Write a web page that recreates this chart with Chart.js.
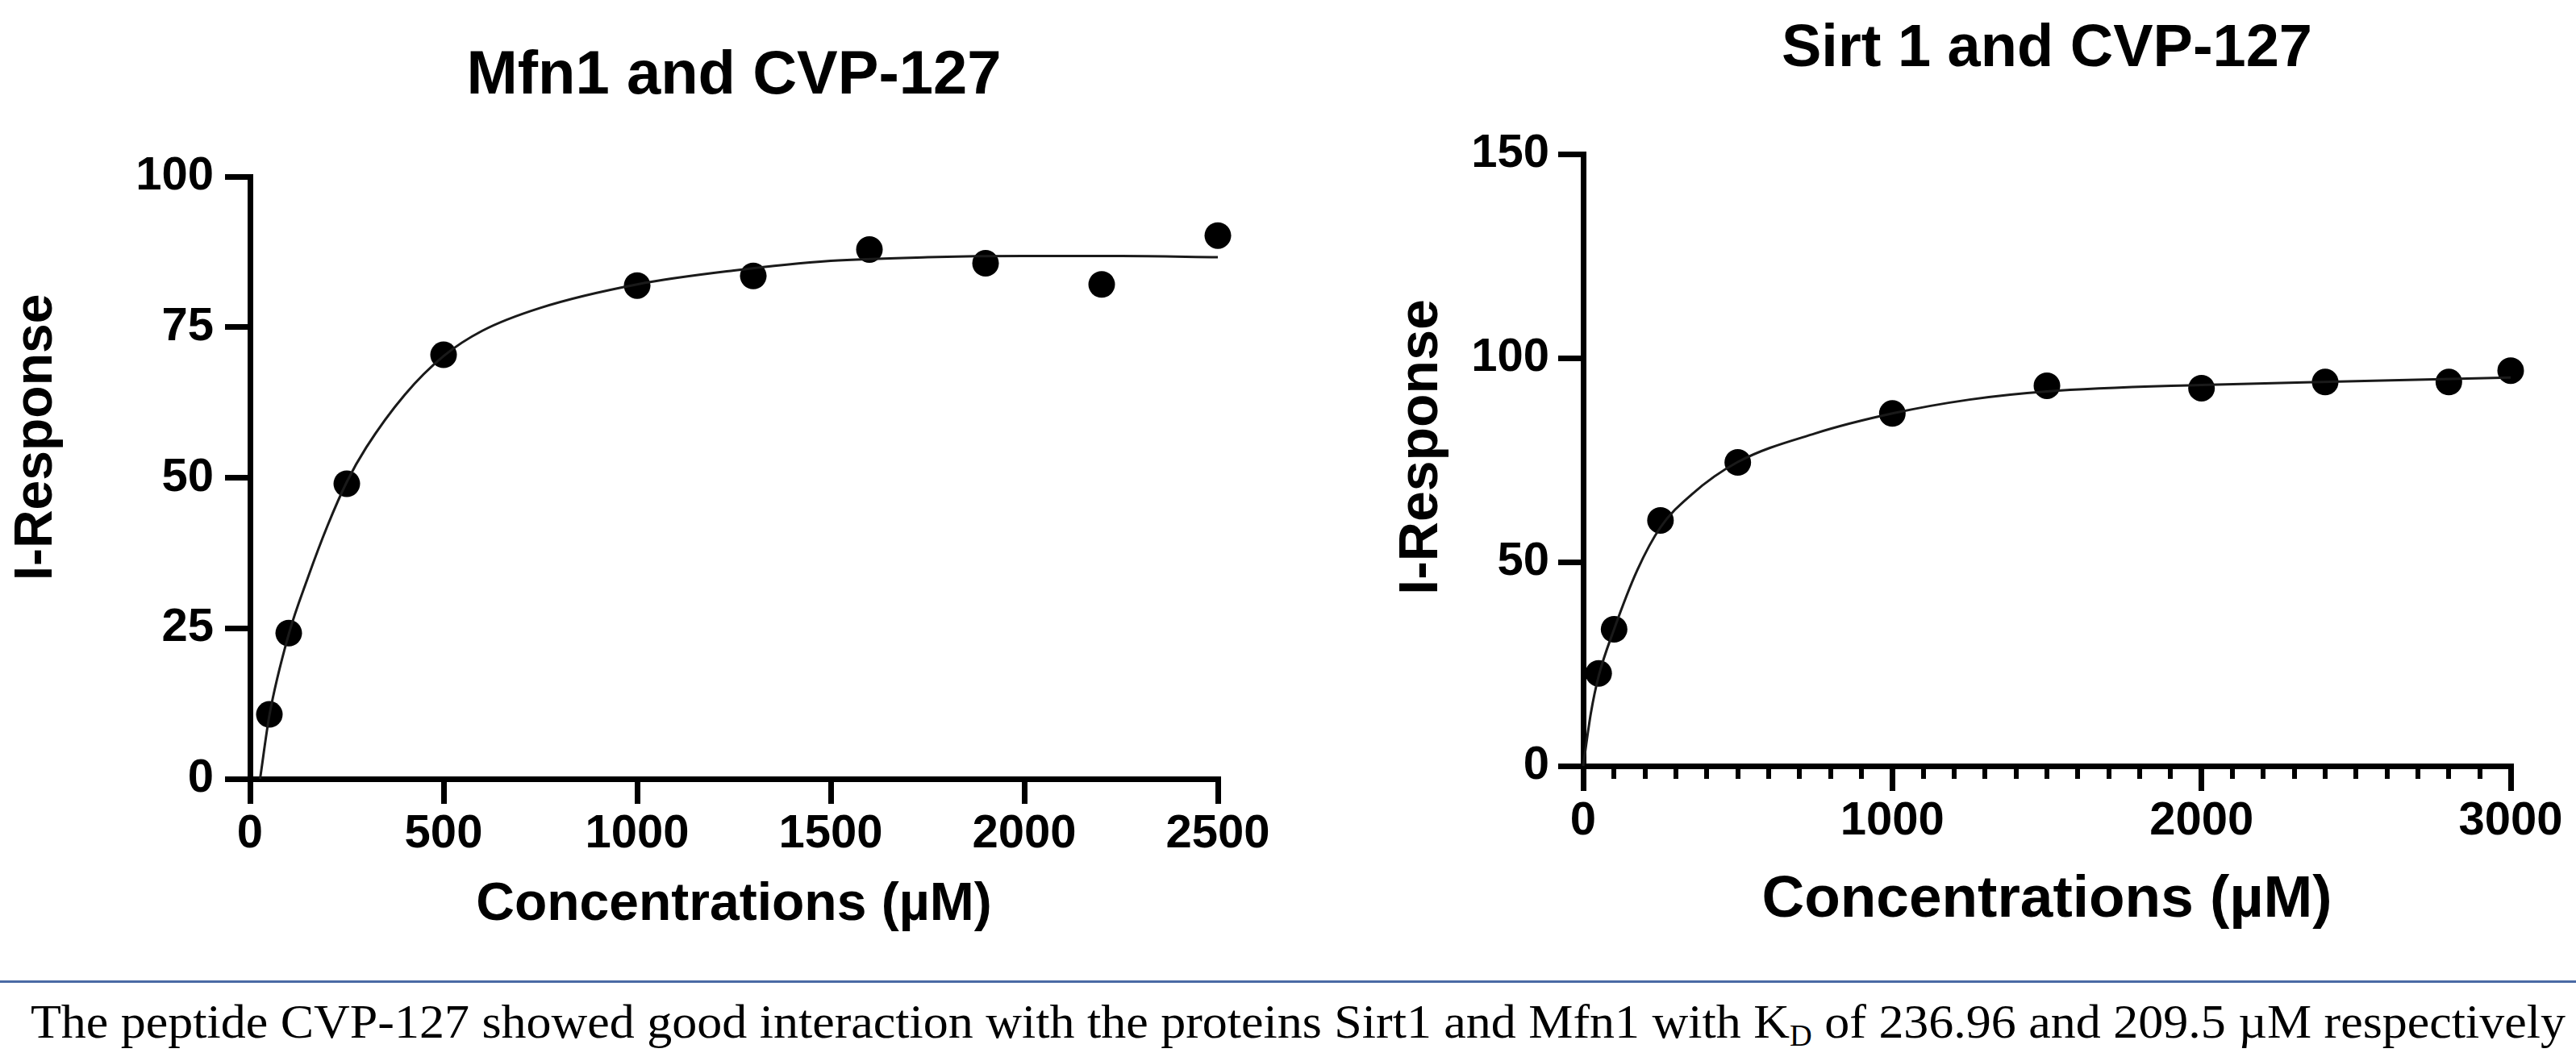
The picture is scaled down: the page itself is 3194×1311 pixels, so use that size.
<!DOCTYPE html>
<html>
<head>
<meta charset="utf-8">
<script src="https://cdn.jsdelivr.net/npm/chart.js@4.4.1/dist/chart.umd.min.js"></script>
<style>
  html, body { margin: 0; padding: 0; background: #fff; }
  body { width: 3194px; height: 1311px; position: relative; overflow: hidden; }
  #leftChart { position: absolute; left: 0; top: 0; }
  #rightChart { position: absolute; left: 1650px; top: 0; }
  .rule { position: absolute; left: 0; top: 1216px; width: 3194px; height: 3px; background: #4a6aa5; }
  .caption {
    position: absolute; left: 38px; top: 1237px;
    font-family: 'Liberation Serif', 'Times New Roman', serif;
    font-size: 60px; line-height: 1; white-space: nowrap; color: #000;
    transform-origin: 0 0;
  }
  .caption sub { font-size: 0.62em; vertical-align: -0.28em; line-height: 0; }
</style>
</head>
<body>
<canvas id="leftChart" width="1600" height="1200"></canvas>
<canvas id="rightChart" width="1544" height="1200"></canvas>
<div class="rule"></div>
<div class="caption" id="caption">The peptide CVP-127 showed good interaction with the proteins Sirt1 and Mfn1 with K<sub>D</sub> of 236.96 and 209.5 µM respectively</div>

<script>
// Mfn1 and CVP-127 – measured points
const mfnConc = [50, 100, 250, 500, 1000, 1300, 1600, 1900, 2200, 2500];
const mfnResp = [10.7, 24.2, 49.0, 70.4, 81.9, 83.5, 87.9, 85.6, 82.1, 90.2];
// fitted curve
const mfnFitX = [26, 50, 100, 150, 200, 250, 300, 400, 500, 600, 750, 1000, 1250, 1500, 1750, 2000, 2250, 2500];
const mfnFitY = [0, 10.5, 24, 33.5, 42, 49.3, 55, 63.8, 70.2, 74.4, 78.2, 82.1, 84.4, 86.0, 86.6, 86.8, 86.8, 86.6];

// Sirt 1 and CVP-127 – measured points
const sirtConc = [50, 100, 250, 500, 1000, 1500, 2000, 2400, 2800, 3000];
const sirtResp = [22.7, 33.5, 60.2, 74.4, 86.4, 93.2, 92.6, 94.1, 94.1, 96.9];
const sirtFitX = [0, 25, 50, 100, 175, 250, 350, 500, 750, 1000, 1250, 1500, 2000, 2500, 3000];
const sirtFitY = [0, 13, 22, 33.5, 48, 58.5, 66.5, 74.5, 81.5, 86.4, 89.8, 91.8, 93.4, 94.3, 95.2];

// axis ticks
const mfnXTicks = [0, 500, 1000, 1500, 2000, 2500];
const mfnYTicks = [0, 25, 50, 75, 100];
const sirtXTicks = [0, 1000, 2000, 3000];
const sirtYTicks = [0, 50, 100, 150];
const sirtMinorStep = 100;

const FAMILY = "'Liberation Sans', Arial, sans-serif";
Chart.defaults.font.family = FAMILY;
Chart.defaults.color = '#000';

const AX = 7;      // axis line width
const TL = 31;     // major tick length

function setTicks(arr) {
  return function (scale) { scale.ticks = arr.map(v => ({ value: v })); };
}

function axisStyle() {
  return {
    grid: { drawOnChartArea: false, drawTicks: true, tickLength: TL, lineWidth: AX, color: '#000' },
    border: { display: true, width: AX, color: '#000' }
  };
}

function pointsOf(xs, ys) { return xs.map((x, i) => ({ x: x, y: ys[i] })); }

// minor ticks on the lower axis of the Sirt1 plot
const minorTicks = {
  id: 'minorTicks',
  afterDraw(chart) {
    const xs = chart.scales.x;
    const bottom = chart.chartArea.bottom;
    const c = chart.ctx;
    c.save();
    c.strokeStyle = '#000';
    c.lineWidth = 6;
    for (let v = xs.min + sirtMinorStep; v < xs.max; v += sirtMinorStep) {
      if (sirtXTicks.includes(v)) continue;
      const px = Math.round(xs.getPixelForValue(v));
      c.beginPath();
      c.moveTo(px, bottom);
      c.lineTo(px, bottom + 16);
      c.stroke();
    }
    c.restore();
  }
};

// rotated y-axis title, sitting a little above the middle of the axis like in the figure
const yTitle = {
  id: 'yTitle',
  afterDraw(chart, args, o) {
    const ys = chart.scales.y;
    const c = chart.ctx;
    c.save();
    c.translate(ys.left + o.x, (ys.top + ys.bottom) / 2 - o.shift);
    c.rotate(-Math.PI / 2);
    c.font = 'bold ' + o.size + 'px ' + FAMILY;
    c.fillStyle = '#000';
    c.textAlign = 'center';
    c.textBaseline = 'middle';
    c.fillText(o.text, 0, 0);
    c.restore();
  }
};

function makeChart(id, opt) {
  const xStyle = axisStyle();
  const yStyle = axisStyle();
  return new Chart(document.getElementById(id), {
    type: 'scatter',
    data: {
      datasets: [{
        type: 'line',
        data: pointsOf(opt.fitX, opt.fitY),
        borderColor: '#1a1a1a',
        borderWidth: 3,
        pointRadius: 0,
        cubicInterpolationMode: 'monotone',
        fill: false,
        clip: false
      }, {
        data: pointsOf(opt.conc, opt.resp),
        backgroundColor: '#000',
        borderColor: '#000',
        pointRadius: 16.5,
        pointBorderWidth: 0,
        showLine: false,
        clip: false
      }]
    },
    options: {
      responsive: false,
      animation: false,
      layout: { padding: { left: 0, right: opt.padRight, top: 0, bottom: 0 } },
      plugins: {
        legend: { display: false },
        tooltip: { enabled: false },
        title: {
          display: true,
          fullSize: false,
          text: opt.title,
          font: { size: opt.titleSize, weight: 'bold', lineHeight: 1 },
          padding: { top: opt.titleTop, bottom: opt.titleBottom },
          color: '#000'
        },
        yTitle: { text: 'I-Response', size: opt.yTitleSize, x: opt.yTitleX, shift: opt.yTitleShift }
      },
      scales: {
        x: {
          type: 'linear',
          min: opt.xTicks[0],
          max: opt.xTicks[opt.xTicks.length - 1],
          afterBuildTicks: setTicks(opt.xTicks),
          afterFit: s => { s.height = opt.xHeight; },
          ticks: {
            font: { size: 58, weight: 'bold', lineHeight: 1.2 }, padding: 3, maxRotation: 0, autoSkip: false,
            callback: v => String(v)
          },
          title: {
            display: true,
            text: 'Concentrations (µM)',
            font: { size: opt.xTitleSize, weight: 'bold', lineHeight: 1 },
            padding: { top: 0, bottom: opt.xTitleBottom }
          },
          grid: xStyle.grid,
          border: xStyle.border
        },
        y: {
          type: 'linear',
          min: opt.yTicks[0],
          max: opt.yTicks[opt.yTicks.length - 1],
          afterBuildTicks: setTicks(opt.yTicks),
          afterFit: s => { s.width = opt.yWidth; },
          ticks: { font: { size: 58, weight: 'bold' }, padding: opt.yPad, autoSkip: false, callback: v => String(v) },
          grid: yStyle.grid,
          border: yStyle.border
        }
      }
    },
    plugins: [yTitle].concat(opt.plugins || [])
  });
}

makeChart('leftChart', {
  title: 'Mfn1 and CVP-127', titleSize: 76, titleTop: 57, titleBottom: 86,
  conc: mfnConc, resp: mfnResp, fitX: mfnFitX, fitY: mfnFitY,
  xTicks: mfnXTicks, yTicks: mfnYTicks,
  yWidth: 310, padRight: 90, xHeight: 234,
  xTitleSize: 66, xTitleBottom: 44, yTitleSize: 66, yTitleX: 46, yTitleShift: 50, yPad: 14
});

makeChart('rightChart', {
  title: 'Sirt 1 and CVP-127', titleSize: 74, titleTop: 25, titleBottom: 92,
  conc: sirtConc, resp: sirtResp, fitX: sirtFitX, fitY: sirtFitY,
  xTicks: sirtXTicks, yTicks: sirtYTicks,
  yWidth: 313, padRight: 81, xHeight: 250,
  xTitleSize: 73, xTitleBottom: 47, yTitleSize: 68, yTitleX: 113, yTitleShift: 16, yPad: 11,
  plugins: [minorTicks]
});

// stretch the caption to the width it has in the figure
const cap = document.getElementById('caption');
const w = cap.getBoundingClientRect().width;
cap.style.transform = 'scaleX(' + (3143 / w) + ')';
</script>
</body>
</html>
